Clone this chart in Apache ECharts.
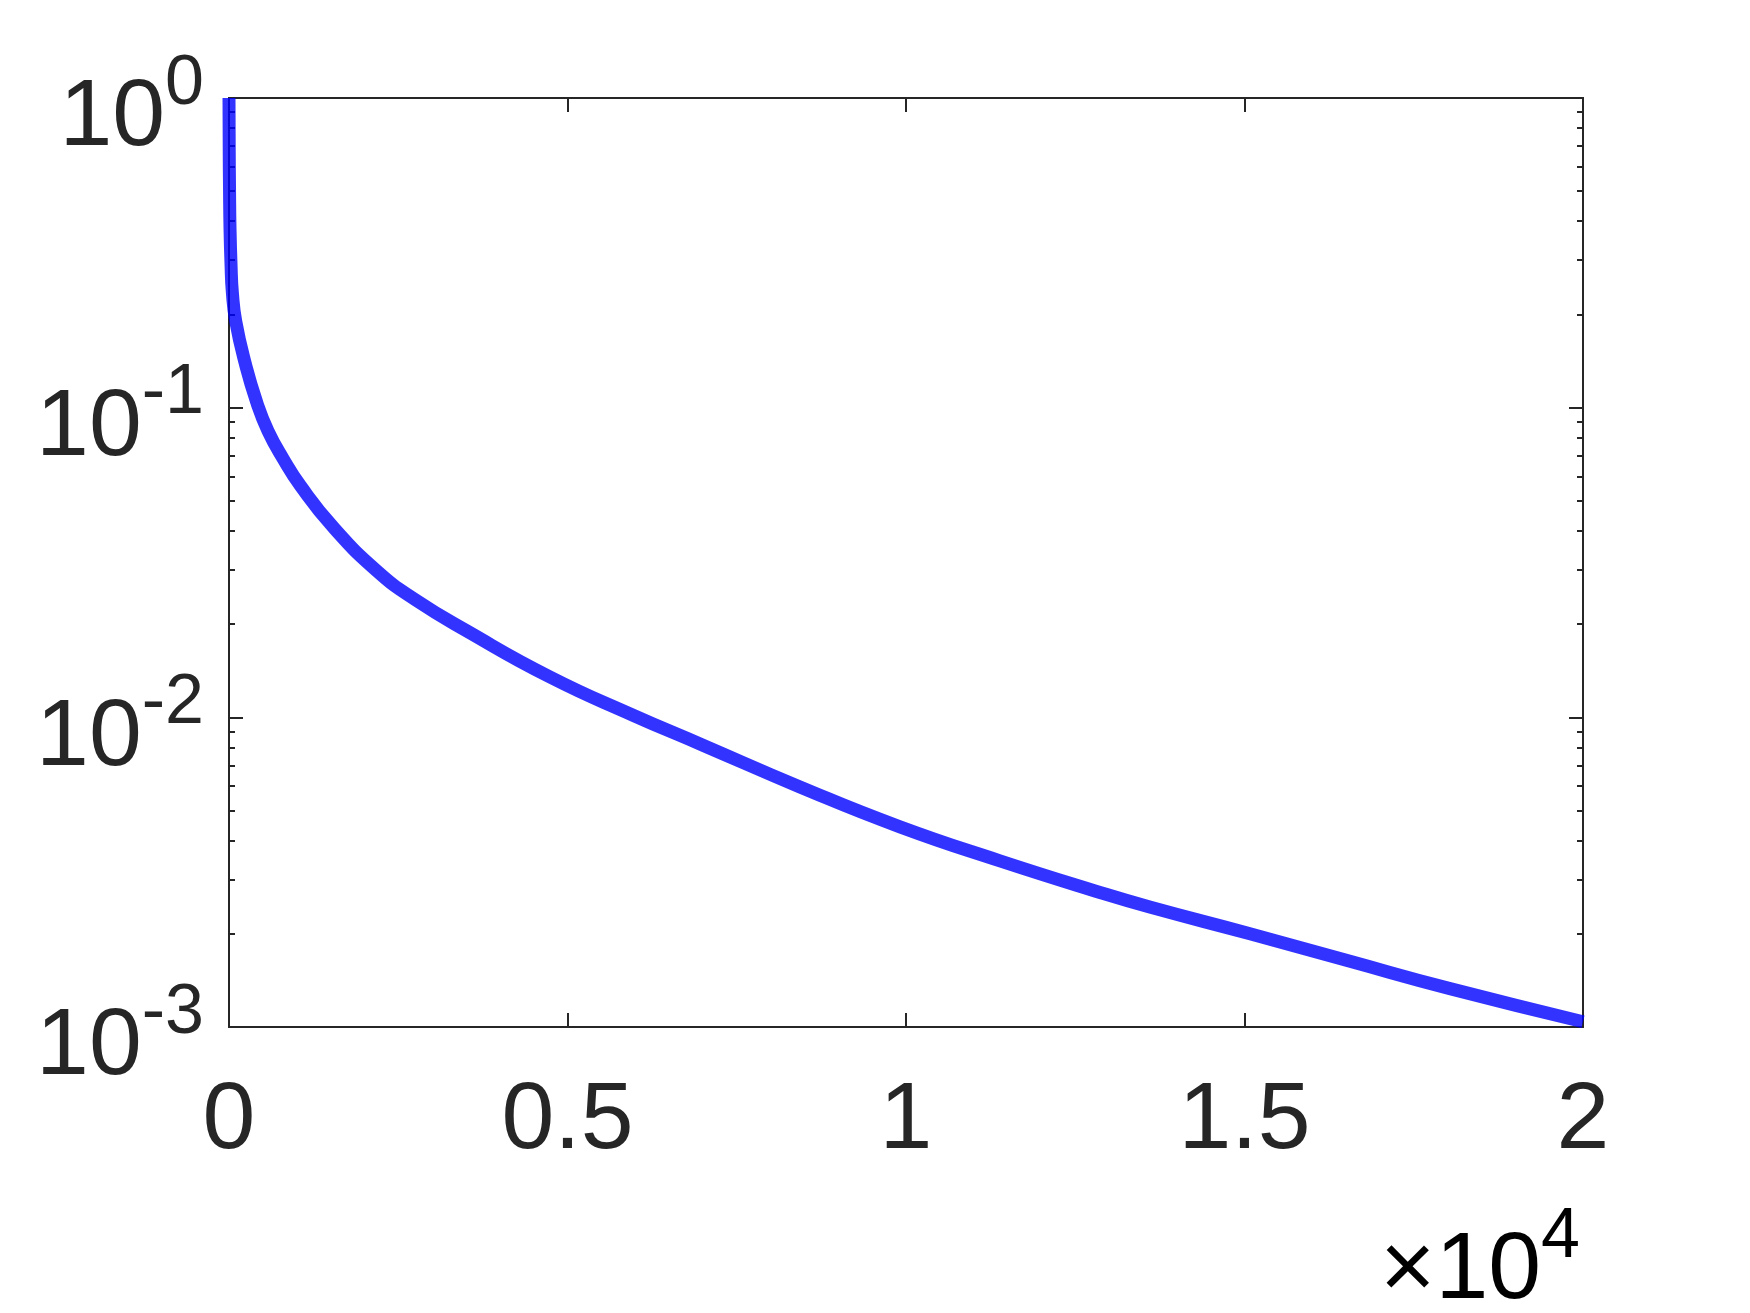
<!DOCTYPE html>
<html>
<head>
<meta charset="utf-8">
<script src="https://cdn.jsdelivr.net/npm/echarts@6/dist/echarts.min.js"></script>
<style>
html,body{margin:0;padding:0;background:#fff;}
#chart{width:1750px;height:1313px;}
</style>
</head>
<body>
<div id="chart"></div>
<script>
// ---- data ----
var xValues = [0, 3, 8, 15, 30, 50, 100, 236, 413, 576, 800, 1049, 1536, 2200, 2750, 3515, 4742, 5968, 7000, 8434, 9911, 11388, 12865, 13600, 15081, 16558, 18035, 20000];
var yValues = [1.0, 0.7, 0.5, 0.38, 0.29, 0.235, 0.19, 0.14, 0.1035, 0.0841, 0.0684, 0.0562, 0.0412, 0.0295, 0.024, 0.019, 0.0135, 0.01016, 0.00813, 0.00596, 0.00443, 0.00344, 0.00272, 0.00244, 0.0020, 0.00163, 0.00133, 0.00104];

var xTickValues = [0, 5000, 10000, 15000, 20000];
var xTickLabels = ['0', '0.5', '1', '1.5', '2'];
var yTickValues = [0.001, 0.01, 0.1, 1];
var yTickExponents = ['-3', '-2', '-1', '0'];
var yMinorTickValues = [0.002,0.003,0.004,0.005,0.006,0.007,0.008,0.009,
                        0.02,0.03,0.04,0.05,0.06,0.07,0.08,0.09,
                        0.2,0.3,0.4,0.5,0.6,0.7,0.8,0.9];
var xScaleExponent = '4';

var seriesData = xValues.map(function (x, i) { return [x, yValues[i]]; });

var AX = '#262626';
var FONT = 'Liberation Sans, Arial, Helvetica, sans-serif';

var richSup = {
  b: { fontSize: 95, fontFamily: FONT, color: AX, lineHeight: 139 },
  s: { fontSize: 70, fontFamily: FONT, color: AX, verticalAlign: 'top' },
  m: { fontSize: 95, fontFamily: FONT, color: AX, lineHeight: 139 }
};

function yAxisBase(position, ticks, len) {
  return {
    type: 'log', logBase: 10, min: 0.001, max: 1, position: position,
    axisLine: { show: true, lineStyle: { color: AX, width: 2 } },
    axisTick: { show: true, inside: true, length: len, customValues: ticks,
                lineStyle: { color: AX, width: 2 } },
    axisLabel: { show: false },
    splitLine: { show: false },
    minorTick: { show: false },
    minorSplitLine: { show: false }
  };
}

var yMain = yAxisBase('left', yTickValues, 14);
yMain.axisLabel = {
  show: true,
  customValues: yTickValues,
  margin: 25,
  padding: [42, 0, 0, 0],
  formatter: function (v) {
    var idx = yTickValues.findIndex(function (t) { return Math.abs(Math.log10(t) - Math.log10(v)) < 1e-6; });
    return '{b|10}{s|' + yTickExponents[idx] + '}';
  },
  rich: richSup
};

var option = {
  animation: false,
  backgroundColor: '#ffffff',
  grid: { left: 229, right: 167, top: 98, bottom: 286, containLabel: false },
  xAxis: [
    {
      type: 'value', min: 0, max: 20000, interval: 5000, position: 'bottom',
      axisLine: { show: true, onZero: false, lineStyle: { color: AX, width: 2 } },
      axisTick: { show: true, inside: true, length: 14, lineStyle: { color: AX, width: 2 } },
      axisLabel: {
        show: true, margin: 47, fontSize: 95, fontFamily: FONT, color: AX,
        formatter: function (v) {
          var idx = xTickValues.indexOf(v);
          return idx >= 0 ? xTickLabels[idx] : '';
        }
      },
      splitLine: { show: false }
    },
    {
      type: 'value', min: 0, max: 20000, interval: 5000, position: 'top',
      axisLine: { show: true, onZero: false, lineStyle: { color: AX, width: 2 } },
      axisTick: { show: true, inside: true, length: 14, lineStyle: { color: AX, width: 2 } },
      axisLabel: { show: false },
      splitLine: { show: false }
    }
  ],
  yAxis: [
    yMain,
    yAxisBase('left', yMinorTickValues, 6),
    yAxisBase('right', yTickValues, 14),
    yAxisBase('right', yMinorTickValues, 6)
  ],
  graphic: [
    {
      type: 'text',
      style: {
        text: '{m|\u00d7}{b|10}{s|' + xScaleExponent + '}',
        rich: richSup,
        x: 1580, y: 1272,
        align: 'right', verticalAlign: 'middle'
      }
    }
  ],
  series: [
    {
      type: 'line',
      xAxisIndex: 0, yAxisIndex: 0,
      data: seriesData,
      showSymbol: false,
      symbol: 'none',
      smooth: 0.5,
      clip: false,
      lineStyle: { color: '#0000ff', width: 13, opacity: 0.8, cap: 'butt', join: 'round' },
      z: 1
    }
  ]
};

var chart = echarts.init(document.getElementById('chart'), null, { renderer: 'canvas' });
chart.setOption(option);
</script>
</body>
</html>
